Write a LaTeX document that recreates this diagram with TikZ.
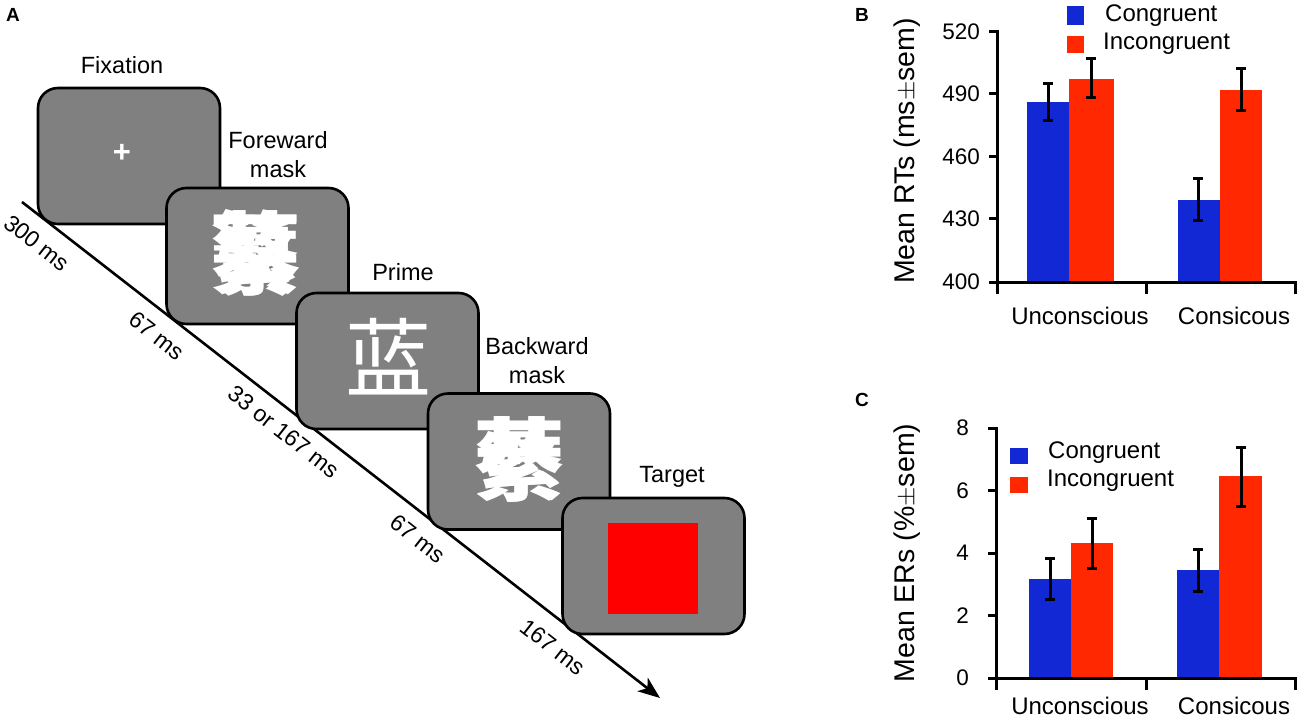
\documentclass[tikz,border=0pt]{standalone}
\usepackage{fontspec}
\setmainfont{Liberation Sans}
\newfontfamily\cjk{Noto Sans CJK SC}
\usetikzlibrary{arrows.meta}
\definecolor{barblue}{RGB}{18,40,212}
\definecolor{barred}{RGB}{255,40,0}
\definecolor{screengray}{RGB}{128,128,128}
\definecolor{targetred}{RGB}{255,0,0}
\begin{document}
\begin{tikzpicture}[x=1pt,y=-1pt,
  screenbox/.style={draw=black,line width=2.6pt,fill=screengray,rounded corners=20pt,
    minimum width=182pt,minimum height=136pt,inner sep=0pt},
  lab/.style={font=\fontsize{23.5}{29}\selectfont,align=center,inner sep=0pt},
  dur/.style={font=\fontsize{23}{27}\selectfont,rotate=-38,inner sep=0pt},
  maskglyph/.style={text=white,font=\cjk\bfseries\fontsize{90}{90}\selectfont,inner sep=0pt},
  panel/.style={font=\bfseries\fontsize{19}{19}\selectfont,inner sep=0pt},
  tick/.style={font=\fontsize{22.5}{22}\selectfont,inner sep=0pt,anchor=east},
  cat/.style={font=\fontsize{24}{24}\selectfont,inner sep=0pt},
  ylab/.style={font=\fontsize{28.5}{28}\selectfont,inner sep=0pt,rotate=90},
  leg/.style={font=\fontsize{24}{24}\selectfont,inner sep=0pt,anchor=west},
  axisline/.style={line width=3pt,line cap=rect},
  errbar/.style={line width=3pt},
]
\useasboundingbox (0,0) rectangle (1300,719);

% ---------------- Panel A ----------------
\node[panel] (pA) at (13,15) {A};

\coordinate (tstart) at (22,202);
\coordinate (tend) at (660,698);
\draw[line width=2.6pt,-{Stealth[length=22pt,width=17pt,inset=6pt]}] (tstart) -- (tend);

\node[screenbox] (fix) at (129,156) {};
\node[text=white,font=\bfseries\fontsize{31}{31}\selectfont,inner sep=0pt] (cross) at (122,153) {+};

\node[screenbox] (fwd) at (257.5,256) {};
\node[maskglyph] (fwdmask) at (255,253) {\rlap{纂}蘩};

\node[screenbox] (prime) at (387.5,361) {};
\node[text=white,font=\cjk\fontsize{86}{86}\selectfont,inner sep=0pt] (primech) at (388,357) {蓝};

\node[screenbox] (bwd) at (519,461.5) {};
\node[maskglyph] (bwdmask) at (519,459) {\rlap{綦}蘩};

\node[screenbox] (tgt) at (653.5,566) {};
\node[fill=targetred,minimum width=90pt,minimum height=91pt,inner sep=0pt] (redsq) at (653,568.5) {};

\node[lab] (lfix) at (122,65) {Fixation};
\node[lab] (lfwd) at (278,155) {Foreward\\mask};
\node[lab] (lprime) at (403,272) {Prime};
\node[lab] (lbwd) at (537,361) {Backward\\mask};
\node[lab] (ltgt) at (672,477) {Target};

\node[dur] (d1) at (37,243) {300 ms};
\node[dur] (d2) at (157,336) {67 ms};
\node[dur] (d3) at (284,432) {33 or 167 ms};
\node[dur] (d4) at (418,539) {67 ms};
\node[dur] (d5) at (553,647) {167 ms};

% ---------------- Panel B ----------------
\node[panel] (pB) at (862,15) {B};
\fill[barblue] (1027,282) rectangle (1069,102);
\fill[barred] (1069,282) rectangle (1114,79);
\fill[barblue] (1178,282) rectangle (1220,200);
\fill[barred] (1220,282) rectangle (1262,90);
% error bars
\draw[errbar] (1048,84) -- (1048,121) (1043,84) -- (1053,84) (1043,121) -- (1053,121);
\draw[errbar] (1091,59) -- (1091,98) (1086,59) -- (1096,59) (1086,98) -- (1096,98);
\draw[errbar] (1198,179) -- (1198,221) (1193,179) -- (1203,179) (1193,221) -- (1203,221);
\draw[errbar] (1241,69) -- (1241,111) (1236,69) -- (1246,69) (1236,111) -- (1246,111);
% axes
\draw[axisline] (997,32) -- (997,292);
\draw[axisline] (997,282) -- (1295,282);
\draw[axisline] (1146,282) -- (1146,292);
\draw[axisline] (1295,282) -- (1295,292);
\foreach \yy in {32,94,157,219,282} \draw[axisline] (990,\yy) -- (997,\yy);
\node[tick] (b520) at (980,32) {520};
\node[tick] (b490) at (980,94) {490};
\node[tick] (b460) at (980,157) {460};
\node[tick] (b430) at (980,219) {430};
\node[tick] (b400) at (980,282) {400};
\node[cat] (bu) at (1080,316) {Unconscious};
\node[cat] (bc) at (1234,316) {Consicous};
\node[ylab] (by) at (907,151) {Mean RTs (ms$\pm$sem)};
\fill[barblue] (1067,6) rectangle (1084,25);
\fill[barred] (1067,36) rectangle (1084,53);
\node[leg] (bl1) at (1105,16) {Congruent};
\node[leg] (bl2) at (1103,44) {Incongruent};

% ---------------- Panel C ----------------
\node[panel] (pC) at (862,400) {C};
\fill[barblue] (1029,678) rectangle (1071,579);
\fill[barred] (1071,678) rectangle (1113,543);
\fill[barblue] (1177,678) rectangle (1219,570);
\fill[barred] (1219,678) rectangle (1262,476);
\draw[errbar] (1050,558) -- (1050,599) (1045,558) -- (1055,558) (1045,599) -- (1055,599);
\draw[errbar] (1092,518) -- (1092,568) (1087,518) -- (1097,518) (1087,568) -- (1097,568);
\draw[errbar] (1198,549) -- (1198,591) (1193,549) -- (1203,549) (1193,591) -- (1203,591);
\draw[errbar] (1241,447) -- (1241,506) (1236,447) -- (1246,447) (1236,506) -- (1246,506);
\draw[axisline] (996,428) -- (996,688);
\draw[axisline] (996,678) -- (1295,678);
\draw[axisline] (1146,678) -- (1146,688);
\draw[axisline] (1295,678) -- (1295,688);
\foreach \yy in {428,490.5,553,615.5,678} \draw[axisline] (989,\yy) -- (996,\yy);
\node[tick] (c8) at (969,428) {8};
\node[tick] (c6) at (969,490.5) {6};
\node[tick] (c4) at (969,553) {4};
\node[tick] (c2) at (969,615.5) {2};
\node[tick] (c0) at (969,678) {0};
\node[cat] (cu) at (1080,706) {Unconscious};
\node[cat] (cc) at (1234,706) {Consicous};
\node[ylab] (cy) at (907,553) {Mean ERs (\%$\pm$sem)};
\fill[barblue] (1010,448) rectangle (1028,464);
\fill[barred] (1010,477) rectangle (1028,493);
\node[leg] (cl1) at (1048,453) {Congruent};
\node[leg] (cl2) at (1047,481) {Incongruent};
\end{tikzpicture}
\end{document}
